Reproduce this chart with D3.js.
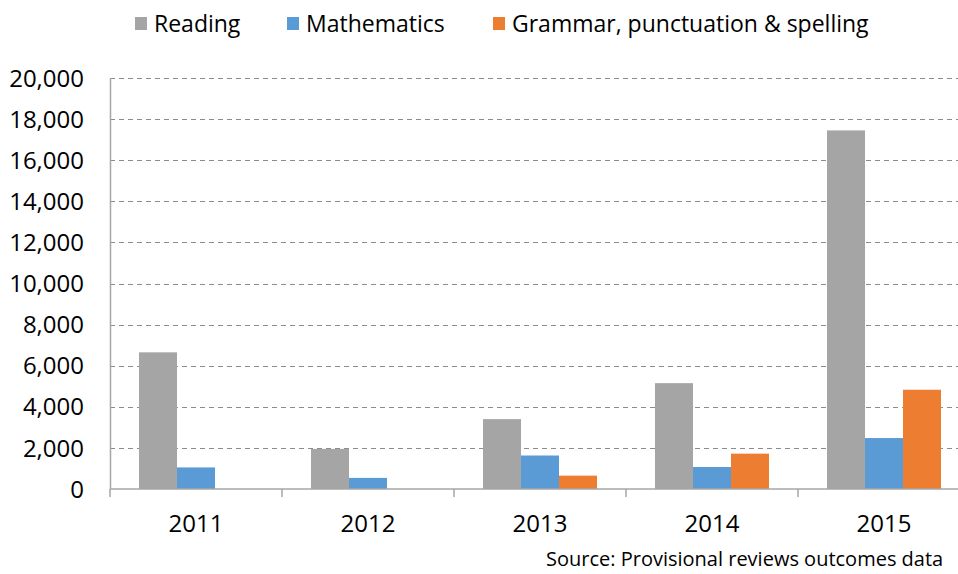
<!DOCTYPE html>
<html>
<head>
<meta charset="utf-8">
<script src="https://cdn.jsdelivr.net/npm/d3@7"></script>
<style>
    body { margin: 0; background: #fff; }
    text { font-family: "Open Sans", sans-serif; fill: #000; }
</style>
</head>
<body>
<div id="chart"></div>
<script>
const years = ["2011", "2012", "2013", "2014", "2015"];
const seriesNames = ["Reading", "Mathematics", "Grammar, punctuation & spelling"];
const reading = [6650, 1950, 3400, 5150, 17450];
const mathematics = [1050, 540, 1630, 1070, 2480];
const grammar = [0, 0, 650, 1720, 4830];
const yTicks = [0, 2000, 4000, 6000, 8000, 10000, 12000, 14000, 16000, 18000, 20000];
const colors = ["#a5a5a5", "#5b9bd5", "#ed7d31"];

const width = 958, height = 574;
const margin = { top: 78, left: 110, bottom: 85 };
const plotRight = 970; // plot area runs past the window edge

const svg = d3.select("#chart").append("svg")
    .attr("width", width)
    .attr("height", height);

const x = d3.scaleBand().domain(years).range([margin.left, plotRight]);
const y = d3.scaleLinear().domain([0, 20000]).range([height - margin.bottom, margin.top]);
const barW = 38;
const xInner = d3.scaleBand().domain(seriesNames).range([0, barW * 3]);

// gridlines
svg.append("g")
    .selectAll("line")
    .data(yTicks.filter(d => d > 0))
    .enter().append("line")
    .attr("x1", margin.left)
    .attr("x2", plotRight)
    .attr("y1", d => Math.round(y(d)) + 0.5)
    .attr("y2", d => Math.round(y(d)) + 0.5)
    .style("stroke", "#8c8c8c")
    .style("stroke-width", 1)
    .style("stroke-dasharray", "5,4");

// bars
const table = years.map((yr, i) => ({ year: yr, values: [reading[i], mathematics[i], grammar[i]] }));
svg.append("g")
    .selectAll("g")
    .data(table)
    .enter().append("g")
    .attr("transform", d => `translate(${x(d.year) + (x.bandwidth() - barW * 3) / 2},0)`)
    .selectAll("rect")
    .data(d => d.values.map((v, k) => ({ name: seriesNames[k], value: v, k: k })))
    .enter().append("rect")
    .attr("x", d => xInner(d.name))
    .attr("width", xInner.bandwidth())
    .attr("y", d => y(d.value))
    .attr("height", d => y(0) - y(d.value))
    .style("fill", d => colors[d.k]);

// y axis line
svg.append("line")
    .attr("x1", margin.left + 0.5).attr("x2", margin.left + 0.5)
    .attr("y1", y(20000)).attr("y2", y(0))
    .style("stroke", "#a6a6a6").style("stroke-width", 1.5);

// x axis
const xAxisY = y(0);
svg.append("line")
    .attr("x1", margin.left).attr("x2", plotRight)
    .attr("y1", xAxisY).attr("y2", xAxisY)
    .style("stroke", "#a6a6a6").style("stroke-width", 1.5);

svg.append("g")
    .selectAll("line")
    .data(years.concat(["end"]))
    .enter().append("line")
    .attr("x1", (d, i) => margin.left + i * x.step())
    .attr("x2", (d, i) => margin.left + i * x.step())
    .attr("y1", xAxisY)
    .attr("y2", xAxisY + 8)
    .style("stroke", "#a6a6a6").style("stroke-width", 1.5);

svg.append("g")
    .selectAll("text")
    .data(years)
    .enter().append("text")
    .attr("x", d => x(d) + x.bandwidth() / 2)
    .attr("y", xAxisY + 43)
    .attr("text-anchor", "middle")
    .style("font-size", "24px")
    .text(d => d);

// y tick labels
svg.append("g")
    .selectAll("text")
    .data(yTicks)
    .enter().append("text")
    .attr("x", 84)
    .attr("y", d => y(d))
    .attr("dy", "0.36em")
    .attr("text-anchor", "end")
    .style("font-size", "24px")
    .text(d => d3.format(",")(d));

// legend
const legendX = [135, 287, 493];
const legend = svg.append("g")
    .selectAll("g")
    .data(seriesNames)
    .enter().append("g")
    .attr("transform", (d, i) => `translate(${legendX[i]},0)`);

legend.append("rect")
    .attr("x", 0).attr("y", 17)
    .attr("width", 12).attr("height", 13)
    .style("fill", (d, i) => colors[i]);

legend.append("text")
    .attr("x", 19)
    .attr("y", 24)
    .attr("dy", "0.36em")
    .style("font-size", "23px")
    .text(d => d);

// source note
svg.append("text")
    .attr("x", 546)
    .attr("y", 566)
    .style("font-size", "20px")
    .text("Source: Provisional reviews outcomes data");
</script>
</body>
</html>
